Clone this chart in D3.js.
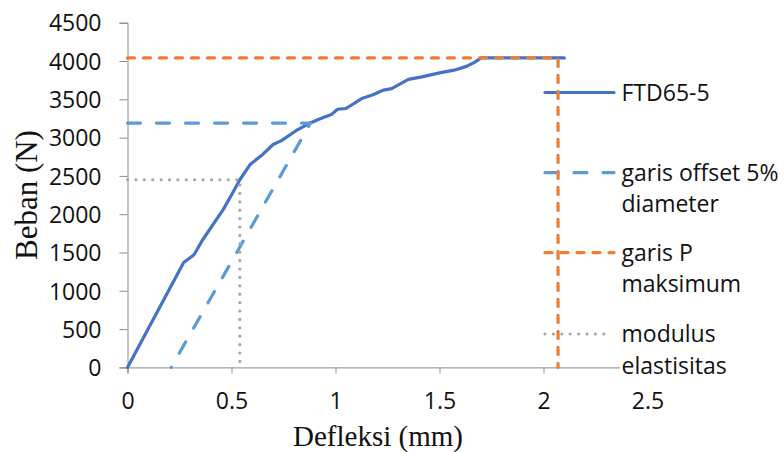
<!DOCTYPE html>
<html>
<head>
<meta charset="utf-8">
<script src="https://cdn.jsdelivr.net/npm/d3@7"></script>
<style>
  html, body { margin: 0; padding: 0; background: #fff; }
  svg { display: block; }
</style>
</head>
<body>
<svg id="chart" width="784" height="452"></svg>
<script>
// Load–deflection curve of specimen FTD65-5
const deflection = [0, 0.27, 0.32, 0.36, 0.41, 0.46, 0.51, 0.54, 0.59, 0.65, 0.70, 0.74, 0.81, 0.87,
                    0.92, 0.98, 1.01, 1.05, 1.13, 1.18, 1.23, 1.27, 1.35, 1.41, 1.50, 1.57, 1.63,
                    1.67, 1.70, 2.10];
const load = [0, 1370, 1470, 1660, 1860, 2060, 2300, 2450, 2650, 2780, 2910, 2960, 3090, 3180,
              3240, 3300, 3370, 3380, 3515, 3560, 3620, 3640, 3760, 3790, 3845, 3880, 3930,
              3985, 4040, 4040];

// 5% diameter offset line
const offsetX = [0, 0.88, 0.21];
const offsetY = [3190, 3190, 0];

// Maximum load line
const pmaxX = [0, 2.07, 2.07];
const pmaxY = [4040, 4040, 0];

// Elastic modulus guide
const modX = [0, 0.54, 0.54];
const modY = [2450, 2450, 0];

const xTicks = [0, 0.5, 1, 1.5, 2, 2.5];
const yTicks = [0, 500, 1000, 1500, 2000, 2500, 3000, 3500, 4000, 4500];

const seriesNames = ["FTD65-5", "garis offset 5% diameter", "garis P maksimum", "modulus elastisitas"];
const legendLines = [["FTD65-5"], ["garis offset 5%", "diameter"], ["garis P", "maksimum"], ["modulus", "elastisitas"]];

const svg = d3.select("#chart");
const x = d3.scaleLinear().domain([0, 2.5]).range([127.5, 647.5]);
const y = d3.scaleLinear().domain([0, 4500]).range([367.4, 22.7]);

const tickFont = "'Open Sans', sans-serif";
const axisColor = "#8a8a8a";

// Y axis
const gy = svg.append("g")
  .attr("transform", `translate(${x(0)},0)`)
  .call(d3.axisLeft(y).tickValues(yTicks).tickSize(8).tickPadding(18).tickFormat(d3.format("d")));
gy.select(".domain").attr("stroke", axisColor).attr("stroke-width", 1);
gy.selectAll(".tick line").attr("stroke", axisColor);
gy.selectAll(".tick text")
  .attr("font-family", tickFont).attr("font-size", 23).attr("fill", "#111")
  .attr("dy", "0.36em");

// X axis
const gx = svg.append("g")
  .attr("transform", `translate(0,${y(0)})`)
  .call(d3.axisBottom(x).tickValues(xTicks).tickSize(6).tickFormat(d => String(d)));
gx.select(".domain").attr("stroke", axisColor).attr("stroke-width", 1);
gx.selectAll(".tick line").attr("stroke", axisColor);
gx.selectAll(".tick text")
  .attr("font-family", tickFont).attr("font-size", 23).attr("fill", "#111")
  .attr("y", 42).attr("dy", 0);

// Axis titles
svg.append("text")
  .attr("x", 378).attr("y", 446)
  .attr("text-anchor", "middle")
  .attr("font-family", "'Liberation Serif', 'Times New Roman', serif")
  .attr("font-size", 29).attr("fill", "#111")
  .text("Defleksi (mm)");

svg.append("text")
  .attr("transform", `translate(37,${(y(0) + y(4500)) / 2}) rotate(-90)`)
  .attr("text-anchor", "middle")
  .attr("font-family", "'Liberation Serif', 'Times New Roman', serif")
  .attr("font-size", 31).attr("fill", "#111")
  .text("Beban (N)");

// Legend text area sits over the end of the x axis
svg.append("rect")
  .attr("x", 620).attr("y", 70).attr("width", 164).attr("height", 312)
  .attr("fill", "#fff");

const styles = [
  { color: "#4472C4", width: 3.2, dash: null, cap: "round" },
  { color: "#5B9BD5", width: 3.2, dash: "13,16", cap: "round" },
  { color: "#ED7D31", width: 3.2, dash: "7,9", cap: "round" },
  { color: "#A5A5A5", width: 3.2, dash: "0,8.4", cap: "round" }
];

// Legend
const legendSymY = [92.5, 172.7, 252.7, 334];
const legendG = svg.append("g");
legendLines.forEach((lines, i) => {
  const s = styles[i];
  legendG.append("line")
    .attr("x1", 545).attr("x2", i === 3 ? 609 : 614)
    .attr("y1", legendSymY[i]).attr("y2", legendSymY[i])
    .attr("stroke", s.color).attr("stroke-width", s.width)
    .attr("stroke-linecap", s.cap)
    .attr("stroke-dasharray", i === 1 ? "13,16" : s.dash);
  const t = legendG.append("text")
    .attr("font-family", tickFont).attr("font-size", 23).attr("fill", "#111");
  lines.forEach((ln, k) => {
    t.append("tspan").attr("x", 621.5).attr("y", legendSymY[i] + 8 + k * 31.6).text(ln);
  });
});

// Series
const line = d3.line().x(d => x(d[0])).y(d => y(d[1]));
const series = [
  d3.zip(deflection, load),
  d3.zip(offsetX, offsetY),
  d3.zip(pmaxX, pmaxY),
  d3.zip(modX, modY)
];
series.forEach((pts, i) => {
  const s = styles[i];
  svg.append("path")
    .datum(pts)
    .attr("d", line)
    .attr("fill", "none")
    .attr("stroke", s.color)
    .attr("stroke-width", s.width)
    .attr("stroke-linejoin", "round")
    .attr("stroke-linecap", s.cap)
    .attr("stroke-dasharray", s.dash);
});
</script>
</body>
</html>
